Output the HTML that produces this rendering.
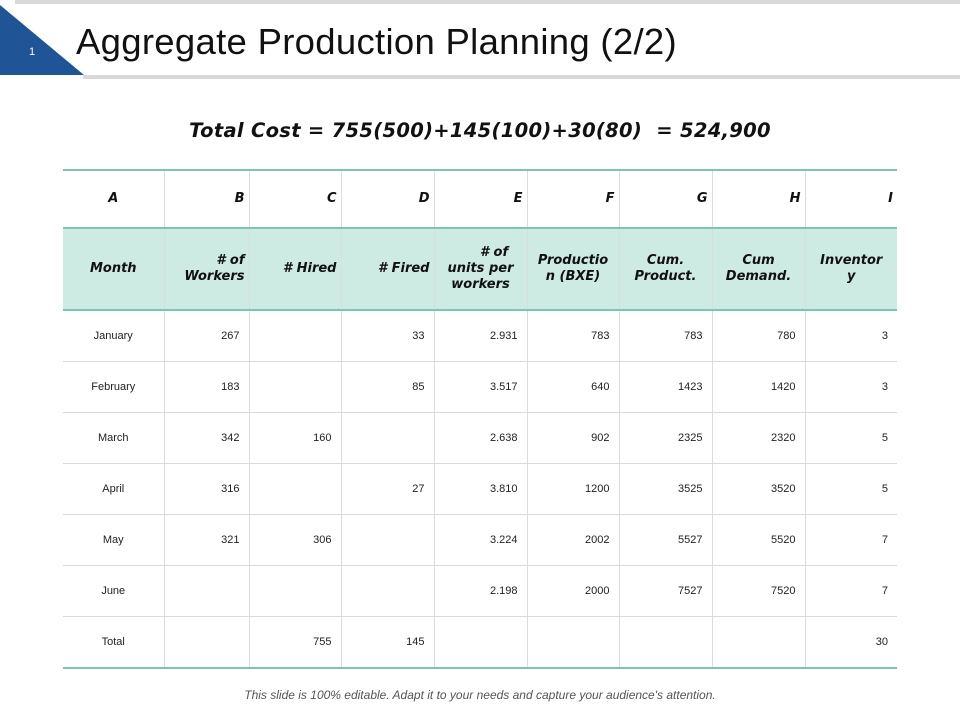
<!DOCTYPE html>
<html><head><meta charset="utf-8"><style>
body{margin:0;width:960px;height:720px;background:#fff;position:relative;overflow:hidden;font-family:"Liberation Sans",sans-serif}
.abs{position:absolute}
table{position:absolute;left:63px;top:169px;border-collapse:collapse;table-layout:fixed}
td{border-left:1px solid #dcdcdc;border-right:1px solid #dcdcdc;border-bottom:1px solid #d9d9d9;padding:0 9px;text-align:right;font-size:11px;color:#222}
td:first-child{border-left:none;text-align:center}
td:last-child{border-right:none}
tr.h td{font-family:"DejaVu Sans",sans-serif;font-weight:bold;font-style:italic;font-size:13px;color:#111;line-height:16px;padding:0 4px}
tr.h1 td{height:56px;border-bottom:2px solid #7cc5b5}
tr.h2 td{height:80px;background:#cdeae3;border-bottom:2px solid #7cc5b5}
tr.d td{height:50px}
table{border-top:2px solid #7cc5b5;border-bottom:2px solid #7cc5b5}
</style></head><body>
<div class="abs" style="left:15px;top:0;width:945px;height:4px;background:#d9d9d9"></div>
<div class="abs" style="left:83px;top:75px;width:877px;height:4px;background:#d9d9d9"></div>
<svg class="abs" style="left:0;top:0" width="90" height="80"><polygon points="0,5 0,75 84,75" fill="#1f5597"/><text x="29" y="55" font-size="11" fill="#fff" font-family="Liberation Sans">1</text></svg>
<div class="abs" style="left:76px;top:21px;font-size:36.5px;color:#111;letter-spacing:0.3px">Aggregate Production Planning (2/2)</div>
<div class="abs" style="left:0;width:960px;top:119px;text-align:center;font-family:'DejaVu Sans',sans-serif;font-weight:bold;font-style:italic;font-size:19.5px;color:#111;letter-spacing:0.3px">Total Cost = 755(500)+145(100)+30(80)&nbsp; = 524,900</div>
<table>
<colgroup><col style="width:101px"><col style="width:85px"><col style="width:92px"><col style="width:93px"><col style="width:93px"><col style="width:92px"><col style="width:93px"><col style="width:93px"><col style="width:92px"></colgroup>
<tr class="h h1"><td>A</td><td>B</td><td>C</td><td>D</td><td>E</td><td>F</td><td>G</td><td>H</td><td>I</td></tr>
<tr class="h h2"><td>Month</td><td># of<br>Workers</td><td># Hired</td><td># Fired</td><td style="text-align:center">&nbsp;&nbsp;&nbsp;&nbsp;&nbsp;&nbsp;# of<br>units per<br>workers</td><td style="text-align:center">Productio<br>n (BXE)</td><td style="text-align:center">Cum.<br>Product.</td><td style="text-align:center">Cum<br>Demand.</td><td style="text-align:center">Inventor<br>y</td></tr>
<tr class="d"><td>January</td><td>267</td><td></td><td>33</td><td>2.931</td><td>783</td><td>783</td><td>780</td><td>3</td></tr>
<tr class="d"><td>February</td><td>183</td><td></td><td>85</td><td>3.517</td><td>640</td><td>1423</td><td>1420</td><td>3</td></tr>
<tr class="d"><td>March</td><td>342</td><td>160</td><td></td><td>2.638</td><td>902</td><td>2325</td><td>2320</td><td>5</td></tr>
<tr class="d"><td>April</td><td>316</td><td></td><td>27</td><td>3.810</td><td>1200</td><td>3525</td><td>3520</td><td>5</td></tr>
<tr class="d"><td>May</td><td>321</td><td>306</td><td></td><td>3.224</td><td>2002</td><td>5527</td><td>5520</td><td>7</td></tr>
<tr class="d"><td>June</td><td></td><td></td><td></td><td>2.198</td><td>2000</td><td>7527</td><td>7520</td><td>7</td></tr>
<tr class="d"><td>Total</td><td></td><td>755</td><td>145</td><td></td><td></td><td></td><td></td><td>30</td></tr>
</table>
<div class="abs" style="left:0;width:960px;top:688px;text-align:center;font-size:12px;font-style:italic;color:#555">This slide is 100% editable. Adapt it to your needs and capture your audience's attention.</div>
</body></html>
